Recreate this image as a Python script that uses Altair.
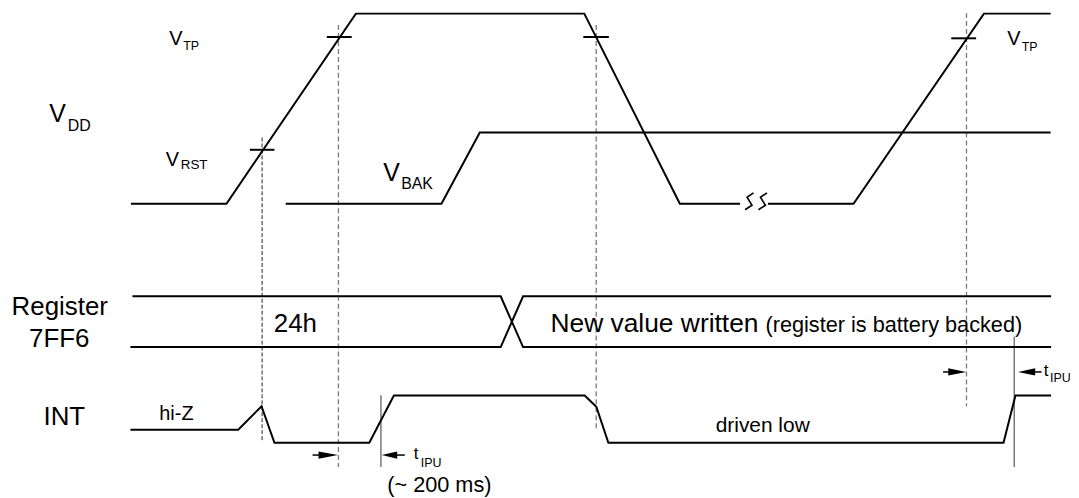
import altair as alt
import pandas as pd

# ---------------- data (diagram coordinates, y grows downward) ----------------
# VDD supply waveform (two pieces around the time-break symbol)
vdd_a_x = [131.5, 227.5, 357.5, 587.0, 683.0, 743.5]
vdd_a_y = [201.5, 201.5, 10.5, 10.5, 201.5, 201.5]
vdd_b_x = [771.5, 857.5, 988.5, 1055.5]
vdd_b_y = [201.5, 201.5, 10.5, 10.5]
# battery voltage level
vbak_x = [287.0, 443.5, 482.0, 1055.5]
vbak_y = [201.5, 201.5, 130.0, 130.0]
# time-break squiggles
brk1_x = [757.0, 750.5, 755.5, 748.5]
brk1_y = [190.5, 195.0, 203.0, 207.5]
brk2_x = [770.5, 764.0, 769.0, 762.0]
brk2_y = [190.5, 195.0, 203.0, 207.5]
# register 7FF6 bus (two crossing paths)
reg_a_x = [133.0, 503.0, 525.5, 1056.0]
reg_a_y = [294.5, 294.5, 345.5, 345.5]
reg_b_x = [131.0, 503.0, 525.5, 1056.0]
reg_b_y = [345.5, 345.5, 294.5, 294.5]
# INT output
int_x = [131.0, 239.3, 262.7, 275.7, 371.0, 395.7, 587.4, 599.1, 611.2, 1008.2, 1020.2, 1056.0]
int_y = [428.5, 428.5, 405.0, 441.7, 441.7, 394.2, 394.2, 405.5, 441.7, 441.7, 394.2, 394.2]
# threshold tick marks on VDD edges
tick_x1 = [251.0, 328.3, 586.0, 955.7]
tick_x2 = [275.7, 353.3, 611.7, 980.7]
tick_y = [147.3, 34.0, 34.0, 35.3]
# arrow shafts
shaft_x1 = [314.0, 398.0, 947.5, 1039.5]
shaft_x2 = [321.0, 406.7, 953.5, 1046.5]
shaft_y = [454.0, 454.0, 370.5, 370.5]
# arrow heads: base x, tip x, centre y
head_base_x = [320.0, 399.0, 952.7, 1040.0]
head_tip_x = [339.5, 383.5, 970.7, 1022.7]
head_y = [454.0, 454.0, 370.5, 370.5]
head_half = 3.6
# vertical reference lines
gray_dash_x = [340.0, 599.0, 971.0]
gray_dash_y1 = [22.0, 22.0, 10.0]
gray_dash_y2 = [466.0, 427.0, 405.0]
dark_dash_x = [263.3]
dark_dash_y1 = [135.0]
dark_dash_y2 = [440.0]
gray_solid_x = [382.7, 1019.0]
gray_solid_y1 = [394.0, 335.0]
gray_solid_y2 = [466.0, 466.0]

# labels
center_texts = ["Register", "7FF6", "INT"]
center_x = [60.0, 59.5, 64.6]
center_y = [313.3, 345.0, 424.0]
center_fs = [26, 26, 26]

left_texts = ["V", "DD", "V", "BAK", "V", "TP", "V", "RST", "V", "TP",
              "24h", "New value written", "(register is battery backed)",
              "driven low", "hi-Z", "(~ 200 ms)", "t", "IPU", "t", "IPU"]
left_x = [49.5, 68.0, 385.0, 403.0, 170.0, 184.0, 166.5, 181.5, 1012.0, 1026.5,
          275.0, 553.0, 769.0, 719.0, 160.0, 389.0, 415.7, 422.7, 1048.5, 1055.0]
left_y = [119.3, 128.5, 178.5, 187.0, 42.0, 47.5, 164.0, 166.7, 41.7, 48.3,
          330.0, 330.0, 330.0, 430.7, 418.3, 491.5, 458.3, 466.0, 375.0, 381.0]
left_fs = [25, 16, 25, 16, 20, 12.5, 20, 13.5, 20, 12.5,
           26, 26.5, 21.8, 21, 20, 21.8, 17, 12.5, 17, 12.5]

# ---------------- build tables ----------------
def poly_rows(paths):
    rows = []
    for pid, (xs, ys) in enumerate(paths):
        for i, (x, y) in enumerate(zip(xs, ys)):
            rows.append({"path": pid, "i": i, "x": x, "y": y})
    return pd.DataFrame(rows)

solid = poly_rows([(vdd_a_x, vdd_a_y), (vdd_b_x, vdd_b_y), (vbak_x, vbak_y),
                   (reg_a_x, reg_a_y), (reg_b_x, reg_b_y), (int_x, int_y)])
squig = poly_rows([(brk1_x, brk1_y), (brk2_x, brk2_y)])

head_rows = []
for k, (bx, tx, cy) in enumerate(zip(head_base_x, head_tip_x, head_y)):
    head_rows.append({"id": k, "x": bx, "y": cy - head_half, "y2": cy + head_half})
    head_rows.append({"id": k, "x": tx, "y": cy, "y2": cy})
heads = pd.DataFrame(head_rows)

ticks = pd.DataFrame({"x": tick_x1, "x2": tick_x2, "y": tick_y})
shafts = pd.DataFrame({"x": shaft_x1, "x2": shaft_x2, "y": shaft_y})
gdash = pd.DataFrame({"x": gray_dash_x, "y": gray_dash_y1, "y2": gray_dash_y2})
ddash = pd.DataFrame({"x": dark_dash_x, "y": dark_dash_y1, "y2": dark_dash_y2})
gsolid = pd.DataFrame({"x": gray_solid_x, "y": gray_solid_y1, "y2": gray_solid_y2})
ct = pd.DataFrame({"t": center_texts, "x": center_x, "y": center_y, "fs": center_fs})
lt = pd.DataFrame({"t": left_texts, "x": left_x, "y": left_y, "fs": left_fs})

W, H = 1063, 482
xs = alt.Scale(domain=[8, 8 + W], nice=False, zero=False)
ys = alt.Scale(domain=[8, 8 + H], nice=False, zero=False, reverse=True)
X = lambda f="x": alt.X(f"{f}:Q", scale=xs, axis=None)
Y = lambda f="y": alt.Y(f"{f}:Q", scale=ys, axis=None)
FONT = "Liberation Sans"

lines = alt.Chart(solid).mark_line(color="black", strokeWidth=2, strokeJoin="miter").encode(
    x=X(), y=Y(), detail="path:N", order="i:Q")
squig_layer = alt.Chart(squig).mark_line(color="black", strokeWidth=1.6, strokeJoin="miter").encode(
    x=X(), y=Y(), detail="path:N", order="i:Q")

tick_layer = alt.Chart(ticks).mark_rule(color="black", strokeWidth=2).encode(
    x=X(), x2="x2:Q", y=Y())
shaft_layer = alt.Chart(shafts).mark_rule(color="black", strokeWidth=1.5).encode(
    x=X(), x2="x2:Q", y=Y())
gdash_layer = alt.Chart(gdash).mark_rule(color="#7a7a7a", strokeWidth=1.3, strokeDash=[5, 3]).encode(
    x=X(), y=Y(), y2="y2:Q")
ddash_layer = alt.Chart(ddash).mark_rule(color="#222222", strokeWidth=1, strokeDash=[4, 2]).encode(
    x=X(), y=Y(), y2="y2:Q")
gsolid_layer = alt.Chart(gsolid).mark_rule(color="#777777", strokeWidth=1.5).encode(
    x=X(), y=Y(), y2="y2:Q")

head_layer = alt.Chart(heads).mark_area(color="black", opacity=1, orient="vertical").encode(
    x=X(), y=Y(), y2="y2:Q", detail="id:N")

ctext = alt.Chart(ct).mark_text(align="center", baseline="alphabetic", font=FONT, color="black").encode(
    x=X(), y=Y(), text="t:N", size=alt.Size("fs:Q", scale=None, legend=None))
ltext = alt.Chart(lt).mark_text(align="left", baseline="alphabetic", font=FONT, color="black").encode(
    x=X(), y=Y(), text="t:N", size=alt.Size("fs:Q", scale=None, legend=None))

chart = alt.layer(
    gdash_layer, ddash_layer, gsolid_layer, lines, squig_layer, tick_layer, shaft_layer,
    head_layer, ctext, ltext
).properties(width=W, height=H, padding=0, background="white").configure_view(stroke=None)

chart.save("out.html", embed_options={"renderer": "svg", "actions": False})
